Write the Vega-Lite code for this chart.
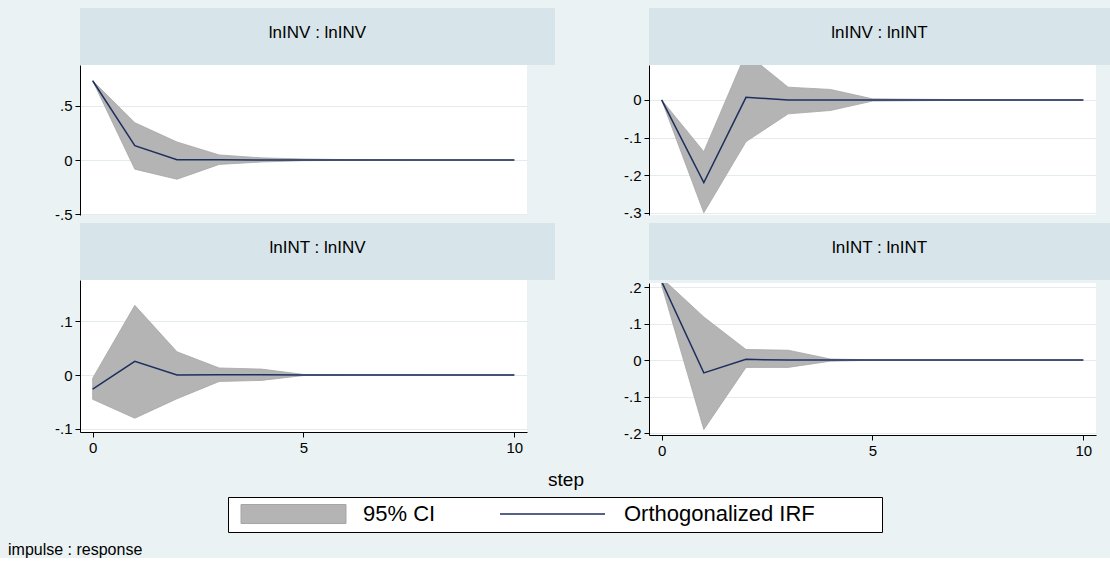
{
  "$schema": "https://vega.github.io/schema/vega-lite/v6.json",
  "background": "#EAF2F3",
  "padding": {"left": 8, "top": 8, "right": 0, "bottom": 0},
  "datasets": {
    "irf": [
      {"panel": "lnINV : lnINV", "step": 0, "irf": 0.73, "lo": 0.73, "hi": 0.73},
      {"panel": "lnINV : lnINV", "step": 1, "irf": 0.133, "lo": -0.084, "hi": 0.344},
      {"panel": "lnINV : lnINV", "step": 2, "irf": 0.002, "lo": -0.177, "hi": 0.166},
      {"panel": "lnINV : lnINV", "step": 3, "irf": 0.002, "lo": -0.04, "hi": 0.047},
      {"panel": "lnINV : lnINV", "step": 4, "irf": 0.001, "lo": -0.018, "hi": 0.02},
      {"panel": "lnINV : lnINV", "step": 5, "irf": 0.0005, "lo": -0.006, "hi": 0.01},
      {"panel": "lnINV : lnINV", "step": 6, "irf": 0.0002, "lo": -0.003, "hi": 0.004},
      {"panel": "lnINV : lnINV", "step": 7, "irf": 0.0001, "lo": -0.001, "hi": 0.002},
      {"panel": "lnINV : lnINV", "step": 8, "irf": 0, "lo": -0.0005, "hi": 0.001},
      {"panel": "lnINV : lnINV", "step": 9, "irf": 0, "lo": -0.0002, "hi": 0.0004},
      {"panel": "lnINV : lnINV", "step": 10, "irf": 0, "lo": -0.0001, "hi": 0.0002},
      {"panel": "lnINV : lnINT", "step": 0, "irf": 0, "lo": 0, "hi": 0},
      {"panel": "lnINV : lnINT", "step": 1, "irf": -0.22, "lo": -0.3, "hi": -0.1375},
      {"panel": "lnINV : lnINT", "step": 2, "irf": 0.007, "lo": -0.111, "hi": 0.125},
      {"panel": "lnINV : lnINT", "step": 3, "irf": 0, "lo": -0.037, "hi": 0.034},
      {"panel": "lnINV : lnINT", "step": 4, "irf": 0, "lo": -0.028, "hi": 0.028},
      {"panel": "lnINV : lnINT", "step": 5, "irf": 0, "lo": -0.003, "hi": 0.003},
      {"panel": "lnINV : lnINT", "step": 6, "irf": 0, "lo": -0.002, "hi": 0.002},
      {"panel": "lnINV : lnINT", "step": 7, "irf": 0, "lo": -0.001, "hi": 0.001},
      {"panel": "lnINV : lnINT", "step": 8, "irf": 0, "lo": -0.0005, "hi": 0.0005},
      {"panel": "lnINV : lnINT", "step": 9, "irf": 0, "lo": -0.0003, "hi": 0.0003},
      {"panel": "lnINV : lnINT", "step": 10, "irf": 0, "lo": -0.0002, "hi": 0.0002},
      {"panel": "lnINT : lnINV", "step": 0, "irf": -0.026, "lo": -0.045, "hi": -0.006},
      {"panel": "lnINT : lnINV", "step": 1, "irf": 0.0254, "lo": -0.08, "hi": 0.129},
      {"panel": "lnINT : lnINV", "step": 2, "irf": 0, "lo": -0.044, "hi": 0.043},
      {"panel": "lnINT : lnINV", "step": 3, "irf": 0.0005, "lo": -0.012, "hi": 0.013},
      {"panel": "lnINT : lnINV", "step": 4, "irf": 0.0003, "lo": -0.01, "hi": 0.011},
      {"panel": "lnINT : lnINV", "step": 5, "irf": 0, "lo": -0.001, "hi": 0.001},
      {"panel": "lnINT : lnINV", "step": 6, "irf": 0, "lo": -0.0005, "hi": 0.0005},
      {"panel": "lnINT : lnINV", "step": 7, "irf": 0, "lo": -0.0003, "hi": 0.0003},
      {"panel": "lnINT : lnINV", "step": 8, "irf": 0, "lo": -0.0002, "hi": 0.0002},
      {"panel": "lnINT : lnINV", "step": 9, "irf": 0, "lo": -0.0001, "hi": 0.0001},
      {"panel": "lnINT : lnINV", "step": 10, "irf": 0, "lo": -0.0001, "hi": 0.0001},
      {"panel": "lnINT : lnINT", "step": 0, "irf": 0.215, "lo": 0.205, "hi": 0.225},
      {"panel": "lnINT : lnINT", "step": 1, "irf": -0.035, "lo": -0.19, "hi": 0.118},
      {"panel": "lnINT : lnINT", "step": 2, "irf": 0.002, "lo": -0.02, "hi": 0.029},
      {"panel": "lnINT : lnINT", "step": 3, "irf": 0, "lo": -0.02, "hi": 0.027},
      {"panel": "lnINT : lnINT", "step": 4, "irf": 0, "lo": -0.003, "hi": 0.003},
      {"panel": "lnINT : lnINT", "step": 5, "irf": 0, "lo": -0.0005, "hi": 0.0005},
      {"panel": "lnINT : lnINT", "step": 6, "irf": 0, "lo": -0.0003, "hi": 0.0003},
      {"panel": "lnINT : lnINT", "step": 7, "irf": 0, "lo": -0.0002, "hi": 0.0002},
      {"panel": "lnINT : lnINT", "step": 8, "irf": 0, "lo": -0.0001, "hi": 0.0001},
      {"panel": "lnINT : lnINT", "step": 9, "irf": 0, "lo": 0, "hi": 0},
      {"panel": "lnINT : lnINT", "step": 10, "irf": 0, "lo": 0, "hi": 0}
    ]
  },
  "title": {"text": "impulse : response", "orient": "bottom", "anchor": "start", "frame": "bounds", "fontSize": 16, "fontWeight": "normal", "font": "Liberation Sans", "color": "#000000", "offset": 9},
  "spacing": 12,
  "vconcat": [
    {
      "columns": 2,
      "spacing": {"row": 0, "column": 22},
      "concat": [
        {
          "spacing": 0,
          "vconcat": [
            {"width": 475, "height": 57, "view": {"fill": "#D7E4EA"}, "data": {"values": [{"t": "lnINV : lnINV"}]}, "mark": {"type": "text", "fontSize": 17, "dy": -4}, "encoding": {"text": {"field": "t", "type": "nominal"}}},
            {
              "width": 447, "height": 150, "view": {"fill": "#FFFFFF"},
              "data": {"name": "irf"},
              "transform": [{"filter": "datum.panel === 'lnINV : lnINV'"}],
              "encoding": {"x": {"field": "step", "type": "quantitative", "scale": {"domain": [-0.3, 10.3], "nice": false, "zero": false}, "axis": null}},
              "layer": [
                {"mark": {"type": "area", "stroke": "#A6A6A6", "strokeWidth": 0.8, "clip": true},
                 "encoding": {
                   "y": {"field": "lo", "type": "quantitative", "scale": {"domain": [-0.506, 0.875], "nice": false, "zero": false}, "axis": {"values": [-0.5, 0, 0.5, 1], "title": null}},
                   "y2": {"field": "hi"},
                   "fill": {"datum": "95% CI", "type": "nominal",
                     "scale": {"domain": ["95% CI"], "range": ["#B4B4B4"]},
                     "legend": {
                       "orient": "none", "legendX": 148, "legendY": 489, "direction": "horizontal",
                       "title": " ", "titleOrient": "right", "titleFontSize": 1, "titlePadding": 441,
                       "strokeColor": "#000000", "fillColor": "#FFFFFF", "padding": 6,
                       "labelFontSize": 22, "labelFont": "Liberation Sans", "labelColor": "#000000", "labelLimit": 400,
                       "symbolSize": 400, "symbolOffset": 48.5, "labelOffset": 58.5,
                       "symbolType": "M-5.25,-0.95L5.25,-0.95L5.25,0.95L-5.25,0.95Z",
                       "symbolStrokeColor": "#A6A6A6", "symbolStrokeWidth": 1, "symbolOpacity": 1
                     }
                   }
                 }},
                {"mark": {"type": "line", "strokeWidth": 1.5, "clip": true},
                 "encoding": {
                   "y": {"field": "irf", "type": "quantitative"},
                   "stroke": {"datum": "Orthogonalized IRF", "type": "nominal",
                     "scale": {"domain": ["Orthogonalized IRF"], "range": ["#1E2F5E"]},
                     "legend": {
                       "orient": "none", "legendX": 419, "legendY": 495, "direction": "horizontal", "title": null,
                       "padding": 0,
                       "labelFontSize": 22, "labelFont": "Liberation Sans", "labelColor": "#000000", "labelLimit": 400,
                       "symbolSize": 400, "symbolOffset": 42.5, "labelOffset": 60.5,
                       "symbolType": "M-5.25,0L5.25,0", "symbolStrokeWidth": 1.5, "symbolOpacity": 1
                     }
                   }
                 }}
              ]
            }
          ]
        },
        {
          "spacing": 0,
          "vconcat": [
            {"width": 461, "height": 57, "view": {"fill": "#D7E4EA"}, "data": {"values": [{"t": "lnINV : lnINT"}]}, "mark": {"type": "text", "fontSize": 17, "dy": -4}, "encoding": {"text": {"field": "t", "type": "nominal"}}},
            {
              "width": 447, "height": 150, "view": {"fill": "#FFFFFF"},
              "data": {"name": "irf"},
              "transform": [{"filter": "datum.panel === 'lnINV : lnINT'"}],
              "encoding": {"x": {"field": "step", "type": "quantitative", "scale": {"domain": [-0.3, 10.3], "nice": false, "zero": false}, "axis": null}},
              "layer": [
                {"mark": {"type": "area", "color": "#B4B4B4", "stroke": "#A6A6A6", "strokeWidth": 0.8, "clip": true},
                 "encoding": {
                   "y": {"field": "lo", "type": "quantitative", "scale": {"domain": [-0.306, 0.093], "nice": false, "zero": false}, "axis": {"values": [-0.3, -0.2, -0.1, 0, 0.1], "title": null}},
                   "y2": {"field": "hi"}
                 }},
                {"mark": {"type": "line", "strokeWidth": 1.5, "color": "#1E2F5E", "clip": true},
                 "encoding": {"y": {"field": "irf", "type": "quantitative"}}}
              ]
            }
          ]
        },
        {
          "spacing": 0,
          "vconcat": [
            {"width": 475, "height": 57, "view": {"fill": "#D7E4EA"}, "data": {"values": [{"t": "lnINT : lnINV"}]}, "mark": {"type": "text", "fontSize": 17, "dy": -4}, "encoding": {"text": {"field": "t", "type": "nominal"}}},
            {
              "width": 447, "height": 152, "view": {"fill": "#FFFFFF"},
              "data": {"name": "irf"},
              "transform": [{"filter": "datum.panel === 'lnINT : lnINV'"}],
              "encoding": {"x": {"field": "step", "type": "quantitative", "scale": {"domain": [-0.3, 10.3], "nice": false, "zero": false}, "axis": {"values": [0, 5, 10], "title": null, "grid": false}}},
              "layer": [
                {"mark": {"type": "area", "color": "#B4B4B4", "stroke": "#A6A6A6", "strokeWidth": 0.8, "clip": true},
                 "encoding": {
                   "y": {"field": "lo", "type": "quantitative", "scale": {"domain": [-0.1056, 0.176], "nice": false, "zero": false}, "axis": {"values": [-0.1, 0, 0.1, 0.2], "title": null}},
                   "y2": {"field": "hi"}
                 }},
                {"mark": {"type": "line", "strokeWidth": 1.5, "color": "#1E2F5E", "clip": true},
                 "encoding": {"y": {"field": "irf", "type": "quantitative"}}}
              ]
            }
          ]
        },
        {
          "spacing": 0,
          "vconcat": [
            {"width": 461, "height": 57, "view": {"fill": "#D7E4EA"}, "data": {"values": [{"t": "lnINT : lnINT"}]}, "mark": {"type": "text", "fontSize": 17, "dy": -4}, "encoding": {"text": {"field": "t", "type": "nominal"}}},
            {
              "width": 447, "height": 152, "view": {"fill": "#FFFFFF"},
              "data": {"name": "irf"},
              "transform": [{"filter": "datum.panel === 'lnINT : lnINT'"}],
              "encoding": {"x": {"field": "step", "type": "quantitative", "scale": {"domain": [-0.3, 10.3], "nice": false, "zero": false}, "axis": {"values": [0, 5, 10], "title": null, "grid": false}}},
              "layer": [
                {"mark": {"type": "area", "color": "#B4B4B4", "stroke": "#A6A6A6", "strokeWidth": 0.8, "clip": true},
                 "encoding": {
                   "y": {"field": "lo", "type": "quantitative", "scale": {"domain": [-0.205, 0.211], "nice": false, "zero": false}, "axis": {"values": [-0.2, -0.1, 0, 0.1, 0.2], "title": null, "tickCount": 20}},
                   "y2": {"field": "hi"}
                 }},
                {"mark": {"type": "line", "strokeWidth": 1.5, "color": "#1E2F5E", "clip": true},
                 "encoding": {"y": {"field": "irf", "type": "quantitative"}}}
              ]
            }
          ]
        }
      ]
    },
    {"width": 972, "height": 20, "view": {"fill": "transparent"}, "data": {"values": [{"t": "step"}]}, "mark": {"type": "text", "fontSize": 19}, "encoding": {"text": {"field": "t", "type": "nominal"}}}
  ],
  "config": {
    "font": "Liberation Sans",
    "view": {"stroke": null},
    "text": {"font": "Liberation Sans", "color": "#000000"},
    "axis": {"labelFont": "Liberation Sans", "labelFontSize": 15, "labelColor": "#000000", "domainColor": "#000000", "tickColor": "#000000", "tickSize": 5, "gridColor": "#E3EBEE", "labelPadding": 3},
    "axisY": {"grid": true, "tickCount": 20, "labelOverlap": false, "minExtent": 72, "maxExtent": 72, "labelExpr": "abs(datum.value) < 1e-9 ? '0' : (abs(datum.value) >= 1 ? toString(datum.value) : (datum.value < 0 ? '-' : '') + substring(toString(abs(datum.value)), 1))"},
    "axisX": {"grid": false}
  }
}
